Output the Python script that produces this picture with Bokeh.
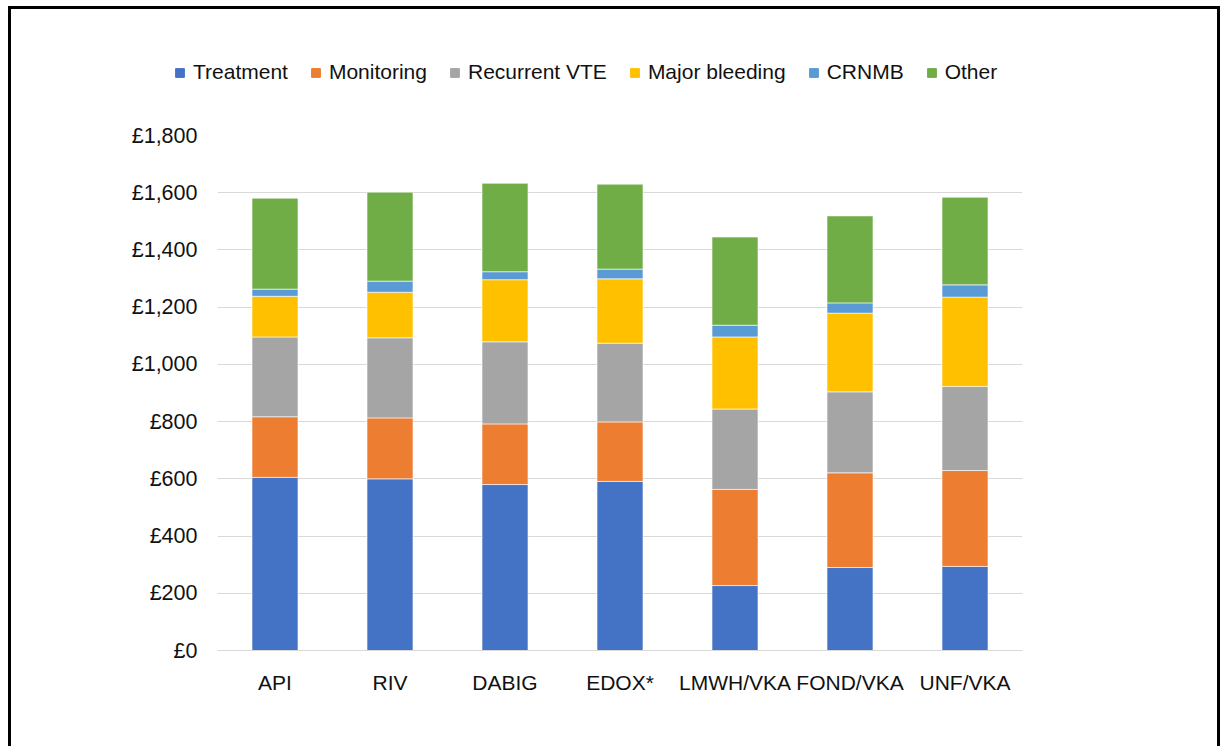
from bokeh.plotting import figure
from bokeh.layouts import column
from bokeh.models import ColumnDataSource, FactorRange, Range1d, FixedTicker, Legend, LegendItem
from bokeh.embed import file_html
from bokeh.resources import INLINE

categories = ["API", "RIV", "DABIG", "EDOX*", "LMWH/VKA", "FOND/VKA", "UNF/VKA"]
series_names = ["Treatment", "Monitoring", "Recurrent VTE", "Major bleeding", "CRNMB", "Other"]
treatment = [605, 600, 580, 591, 227, 290, 294]
monitoring = [212, 213, 212, 208, 336, 331, 335]
recurrent_vte = [279, 280, 287, 275, 281, 283, 294]
major_bleeding = [142, 159, 217, 225, 252, 275, 312]
crnmb = [25, 39, 28, 34, 41, 36, 43]
other = [318, 311, 309, 297, 308, 304, 306]
y_tick_values = [0, 200, 400, 600, 800, 1000, 1200, 1400, 1600, 1800]
y_tick_labels = ["£0", "£200", "£400", "£600", "£800", "£1,000", "£1,200", "£1,400", "£1,600", "£1,800"]

colors = ["#4472C4", "#ED7D31", "#A5A5A5", "#FFC000", "#5B9BD5", "#70AD47"]
keys = ["treatment", "monitoring", "recurrent", "major", "crnmb", "other"]

source = ColumnDataSource(dict(
    cat=categories, treatment=treatment, monitoring=monitoring, recurrent=recurrent_vte,
    major=major_bleeding, crnmb=crnmb, other=other))

FONT = "Liberation Sans"

# ---- legend strip (top of the framed box) ----
leg = figure(width=1212, height=100, output_backend="svg", toolbar_location=None,
             x_range=Range1d(0, 1), y_range=Range1d(0, 1),
             x_axis_location=None, y_axis_location=None,
             min_border_left=0, min_border_right=0, min_border_top=0, min_border_bottom=0)
leg.frame_align = False
leg.styles = {"border-top": "3px solid black", "border-left": "3px solid black",
              "border-right": "3px solid black", "margin-left": "8px", "margin-top": "6px"}
leg.grid.visible = False
leg.outline_line_color = None
# placeholder renderers (kept outside the visible range) that only supply legend swatches
leg_src = ColumnDataSource(dict(x=[5], top=[5]))
dummies = [leg.vbar(x="x", top="top", bottom=4, width=0.1, source=leg_src, color=c) for c in colors]
items = [LegendItem(label=n, renderers=[r]) for n, r in zip(series_names, dummies)]
legend = Legend(items=items, orientation="horizontal", location=(163, 25),
                glyph_width=11, glyph_height=11, label_standoff=8, spacing=22,
                padding=0, margin=0, border_line_color=None, background_fill_alpha=0,
                label_text_font=FONT, label_text_font_size="21px",
                label_text_color="#111111", label_height=21)
leg.add_layout(legend, "center")

# ---- chart ----
p = figure(width=1212, height=640, output_backend="svg", toolbar_location=None,
           x_range=FactorRange(*categories, range_padding=0), y_range=Range1d(0, 1800),
           min_border_left=206, min_border_right=201, min_border_top=29, min_border_bottom=96)
p.frame_align = False
p.styles = {"border-left": "3px solid black", "border-right": "3px solid black",
            "margin-left": "8px"}

p.vbar_stack(keys, x="cat", width=0.4, source=source, color=colors,
             line_color="white", line_width=0.6)

p.outline_line_color = None
p.background_fill_color = "white"
p.border_fill_color = "white"
p.xgrid.grid_line_color = None
p.ygrid.grid_line_color = "#d9d9d9"
p.ygrid.grid_line_width = 1.2
p.yaxis.ticker = FixedTicker(ticks=y_tick_values)
p.yaxis.major_label_overrides = {v: l for v, l in zip(y_tick_values, y_tick_labels)}

for ax in (p.xaxis[0], p.yaxis[0]):
    ax.major_tick_line_color = None
    ax.minor_tick_line_color = None
    ax.major_label_text_font = FONT
    ax.major_label_text_color = "#111111"
p.xaxis.major_label_text_font_size = "21px"
p.yaxis.major_label_text_font_size = "21.5px"
p.yaxis.axis_line_color = None
p.yaxis.major_label_standoff = 14
p.xaxis.axis_line_color = "#d9d9d9"
p.xaxis.axis_line_width = 1.2
p.xaxis.major_label_standoff = 14

layout = column(leg, p, spacing=0)
open("out.html", "w").write(file_html(layout, INLINE))
